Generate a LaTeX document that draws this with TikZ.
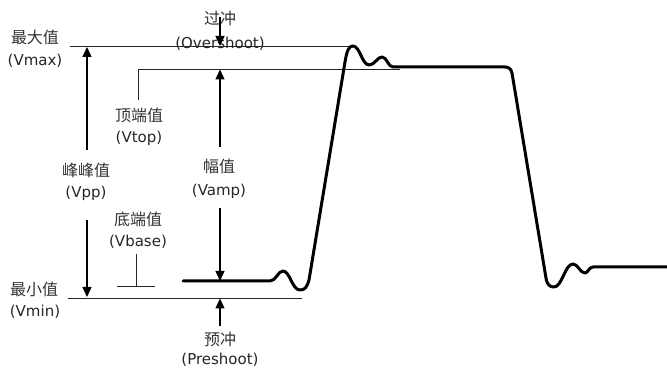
\documentclass[tikz,border=0pt]{standalone}
\usepackage{fontspec}
\setmainfont{DejaVu Sans}
\newfontfamily\cjk{Noto Sans CJK SC}
\usetikzlibrary{arrows.meta}
\tikzset{
  en/.style={inner sep=0pt, text=black!85, font=\fontsize{15}{17}\selectfont},
  cn/.style={inner sep=0pt, text=black!80, font=\cjk\fontsize{16}{18}\selectfont},
  refline/.style={line width=0.9pt, black!85},
  arr/.style={line width=1.3pt, -{Triangle[length=10pt,width=9pt]}},
  wave/.style={line width=3pt, line join=round, line cap=round}
}
\begin{document}
\begin{tikzpicture}[x=1pt,y=-1pt]
\useasboundingbox (0,0) rectangle (667,371);
% labels
\node[cn] (maxcn) at (35,37) {最大值};
\node[en] (maxen) at (35,61) {(Vmax)};
\node[cn] (ovcn) at (220,18) {过冲};
\node[en] (oven) at (220,44) {(Overshoot)};
\node[cn] (topcn) at (139,115) {顶端值};
\node[en] (topen) at (139,138) {(Vtop)};
\node[cn] (ppcn) at (86,170) {峰峰值};
\node[en] (ppen) at (86,193) {(Vpp)};
\node[cn] (ampcn) at (219,166) {幅值};
\node[en] (ampen) at (219,191) {(Vamp)};
\node[cn] (basecn) at (138,219) {底端值};
\node[en] (baseen) at (138,242) {(Vbase)};
\node[cn] (mincn) at (34,289) {最小值};
\node[en] (minen) at (35,312) {(Vmin)};
\node[cn] (precn) at (220,339) {预冲};
\node[en] (preen) at (220,360) {(Preshoot)};
% reference lines
\coordinate (maxL) at (70,46.5);
\coordinate (maxR) at (350,46.5);
\draw[refline] (maxL) -- (maxR);
\coordinate (topT) at (138,100);
\coordinate (topC) at (138,69);
\coordinate (topR) at (400,69);
\draw[refline] (topT) -- (topC) -- (topR);
\coordinate (baseL) at (117,286);
\coordinate (baseR) at (155,286);
\coordinate (baseT) at (136,254);
\coordinate (baseB) at (136,286);
\draw[refline] (baseL) -- (baseR);
\draw[refline] (baseT) -- (baseB);
\coordinate (minL) at (68,298);
\coordinate (minR) at (302,298);
\draw[refline] (minL) -- (minR);
% arrows
\coordinate (ppA) at (87,150);
\coordinate (ppAt) at (87,47);
\coordinate (ppB) at (87,220);
\coordinate (ppBt) at (87,297);
\draw[arr] (ppA) -- (ppAt);
\draw[arr] (ppB) -- (ppBt);
\coordinate (ampA) at (220,147);
\coordinate (ampAt) at (220,69.5);
\coordinate (ampB) at (220,208);
\coordinate (ampBt) at (220,281);
\draw[arr] (ampA) -- (ampAt);
\draw[arr] (ampB) -- (ampBt);
\coordinate (ovA) at (220,17);
\coordinate (ovAt) at (220,46);
\draw[arr] (ovA) -- (ovAt);
\coordinate (preA) at (220,326);
\coordinate (preAt) at (220,298.5);
\draw[arr] (preA) -- (preAt);
% waveform
\draw[wave] (183,281) -- (270,281)
  .. controls (276,281) and (278,271) .. (283,271)
  .. controls (290,271) and (292,290) .. (300,290)
  .. controls (305,290) and (307,287) .. (309,280)
  -- (345,62)
  .. controls (347,50) and (349,46) .. (353,46)
  .. controls (360,46) and (362,65) .. (369,65)
  .. controls (375,65) and (377,57) .. (382,57)
  .. controls (387,57) and (388,67) .. (393,67)
  -- (505,67)
  .. controls (509,67) and (511,69) .. (512,73)
  -- (546,278)
  .. controls (547,285) and (550,287) .. (554,287)
  .. controls (562,287) and (565,264) .. (573,264)
  .. controls (578,264) and (580,273) .. (585,273)
  .. controls (588,273) and (589,267) .. (593,267)
  -- (667,267);
\end{tikzpicture}
\end{document}
